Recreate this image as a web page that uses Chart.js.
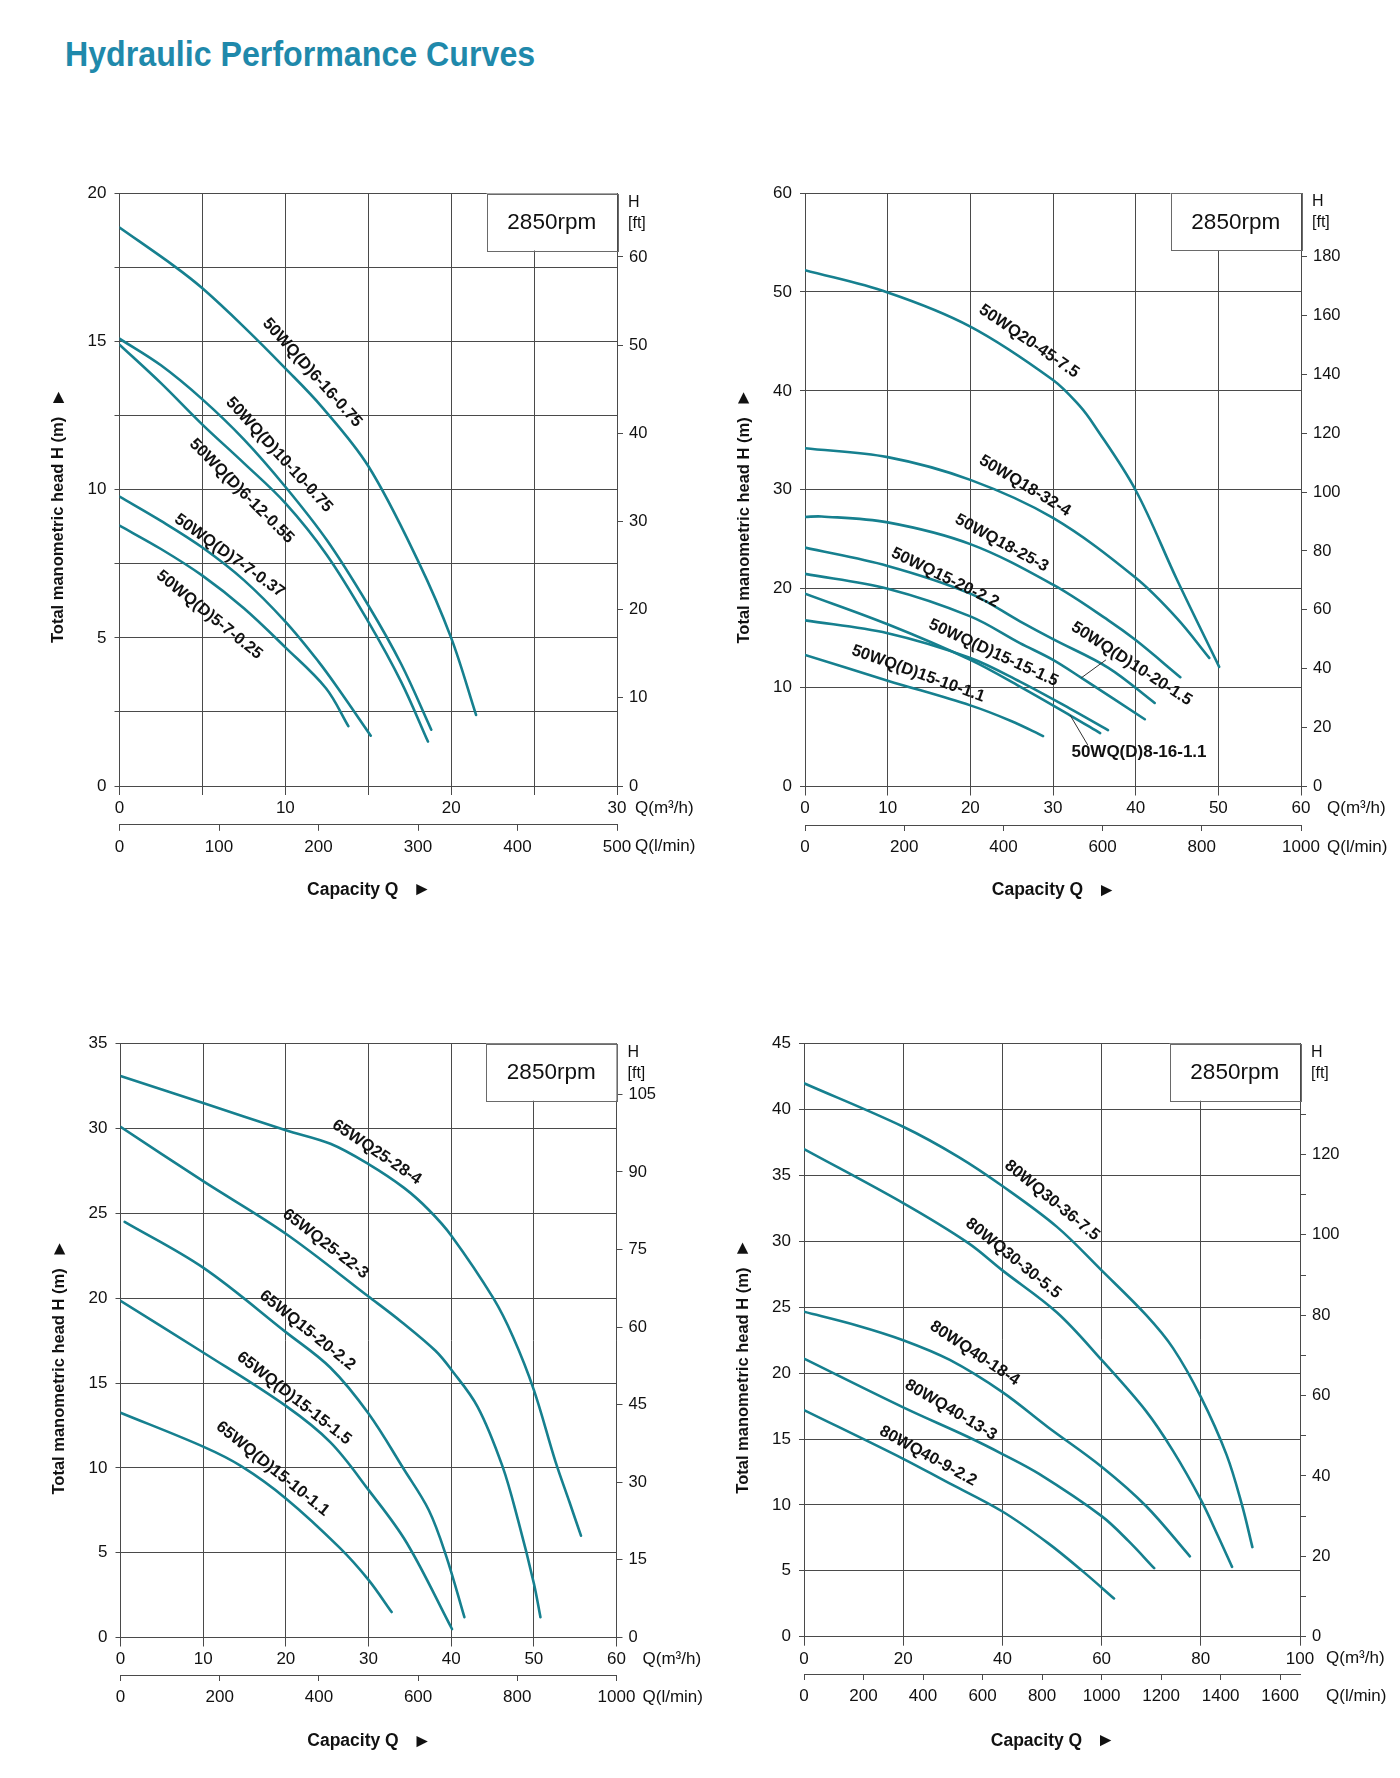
<!DOCTYPE html>
<html><head><meta charset="utf-8">
<script src="https://cdn.jsdelivr.net/npm/chart.js@4.4.1/dist/chart.umd.min.js"></script>
<style>
html,body{margin:0;padding:0;background:#fff;}
body{width:1400px;height:1778px;position:relative;overflow:hidden;}
#title{position:absolute;left:65px;top:36px;margin:0;font:bold 35px "Liberation Sans",Arial,sans-serif;line-height:35px;color:#1f89ab;transform:scaleX(0.919);transform-origin:0 0;white-space:nowrap;}
.wrap{position:absolute;width:720px;height:780px;}
canvas{display:block;}
</style></head><body>
<h1 id="title">Hydraulic Performance Curves</h1>
<div class="wrap" style="left:0;top:150px"><canvas id="c1" width="720" height="780"></canvas></div>
<div class="wrap" style="left:700px;top:150px"><canvas id="c2" width="720" height="780"></canvas></div>
<div class="wrap" style="left:0;top:1000px"><canvas id="c3" width="720" height="780"></canvas></div>
<div class="wrap" style="left:700px;top:1000px"><canvas id="c4" width="720" height="780"></canvas></div>
<script>
// ---------------- DATA (Q in m3/h, H in m) ----------------
// Chart 1
const c1Names = ['50WQ(D)6-16-0.75','50WQ(D)10-10-0.75','50WQ(D)6-12-0.55','50WQ(D)7-7-0.37','50WQ(D)5-7-0.25'];
const c1Q_6_16  = [0, 3.3, 5, 7.5, 10, 12.2, 15, 18, 20, 21.5];
const c1H_6_16  = [18.85, 17.55, 16.8, 15.5, 14.1, 12.8, 10.8, 7.6, 5.0, 2.4];
const c1Q_10_10 = [0, 2.5, 5, 7.5, 10, 12.5, 15, 17, 18.8];
const c1H_10_10 = [15.1, 14.2, 13.05, 11.7, 10.1, 8.3, 6.1, 4.1, 1.9];
const c1Q_6_12  = [0, 2.5, 5, 7.5, 10, 12.5, 15, 17, 18.6];
const c1H_6_12  = [14.9, 13.6, 12.2, 10.9, 9.55, 7.8, 5.55, 3.5, 1.5];
const c1Q_7_7   = [0, 2.5, 5, 7.5, 10, 12, 13.3, 15.15];
const c1H_7_7   = [9.77, 8.95, 8.05, 6.95, 5.55, 4.2, 3.2, 1.7];
const c1Q_5_7   = [0, 2.5, 5, 7.5, 10, 12.45, 13.8];
const c1H_5_7   = [8.79, 8.0, 7.1, 6.0, 4.68, 3.3, 2.02];

// Chart 2
const c2Names = ['50WQ20-45-7.5','50WQ18-32-4','50WQ18-25-3','50WQ15-20-2.2','50WQ(D)10-20-1.5','50WQ(D)8-16-1.1','50WQ(D)15-15-1.5','50WQ(D)15-10-1.1'];
const c2Q_20_45 = [0, 10, 20, 30, 33.2, 35, 40, 45, 50.1];
const c2H_20_45 = [52.2, 49.95, 46.5, 41.1, 38.5, 36.5, 29.95, 20.9, 12.1];
const c2Q_18_32 = [0, 10, 20, 30, 40, 45, 48.9];
const c2H_18_32 = [34.2, 33.3, 31.0, 27.15, 21.1, 17.0, 13.0];
const c2Q_18_25 = [0, 2, 10, 20, 30, 36.7, 40, 45.4];
const c2H_18_25 = [27.25, 27.3, 26.7, 24.5, 20.4, 16.8, 14.8, 11.05];
const c2Q_15_20 = [0, 10, 20, 26, 30, 36.7, 42.3];
const c2H_15_20 = [24.15, 22.3, 19.5, 16.7, 14.9, 12.0, 8.45];
const c2Q_10_20 = [0, 10, 20, 26, 30, 33.4, 41.1];
const c2H_10_20 = [21.5, 20.0, 17.2, 14.5, 12.8, 11.0, 6.8];
const c2Q_8_16  = [0, 10, 20, 26, 32.06, 35.7];
const c2H_8_16  = [19.5, 16.4, 12.8, 10.1, 7.2, 5.4];
const c2Q_15_15 = [0, 10, 20, 26, 32, 36.65];
const c2H_15_15 = [16.8, 15.5, 13.0, 10.6, 7.9, 5.7];
const c2Q_15_10 = [0, 10, 20, 25, 28.8];
const c2H_15_10 = [13.3, 10.7, 8.2, 6.6, 5.1];

// Chart 3
const c3Names = ['65WQ25-28-4','65WQ25-22-3','65WQ15-20-2.2','65WQ(D)15-15-1.5','65WQ(D)15-10-1.1'];
const c3Q_25_28 = [0, 10, 20, 25.4, 30, 34.3, 37.3, 40, 45.1, 47.5, 50, 52.6, 54.3, 55.7];
const c3H_25_28 = [33.1, 31.5, 29.9, 29.1, 27.9, 26.5, 25.2, 23.7, 20.0, 17.7, 14.6, 10.4, 8.0, 6.0];
const c3Q_25_22 = [0, 10, 20, 30, 34, 38.1, 40, 43.2, 46.2, 48.1, 50, 50.8];
const c3H_25_22 = [30.1, 26.9, 23.8, 20.1, 18.6, 16.9, 15.8, 13.6, 10.1, 6.9, 3.2, 1.2];
const c3Q_15_20 = [0.5, 10, 20, 25.4, 30, 34.3, 37.3, 39.4, 41.6];
const c3H_15_20 = [24.5, 21.8, 18.0, 15.9, 13.2, 9.9, 7.5, 4.8, 1.2];
const c3Q_15_15 = [0, 10, 20, 25.4, 30, 34.6, 40.1];
const c3H_15_15 = [19.85, 16.8, 13.65, 11.5, 8.7, 5.6, 0.5];
const c3Q_15_10 = [0, 10, 14.6, 20, 26.5, 30, 32.8];
const c3H_15_10 = [13.25, 11.25, 10.1, 8.2, 5.3, 3.4, 1.5];

// Chart 4
const c4Names = ['80WQ30-36-7.5','80WQ30-30-5.5','80WQ40-18-4','80WQ40-13-3','80WQ40-9-2.2'];
const c4Q_30_36 = [0, 20, 31.2, 40, 51, 60, 69, 74.4, 80, 85.2, 88.3, 90.4];
const c4H_30_36 = [42.0, 38.7, 36.4, 34.2, 31.1, 27.8, 24.4, 21.9, 18.2, 13.8, 10.0, 6.8];
const c4Q_30_30 = [0, 20, 33, 40, 51, 60, 69, 74.4, 80, 83.4, 86.3];
const c4H_30_30 = [37.0, 32.9, 29.9, 27.8, 24.6, 21.0, 17.1, 14.1, 10.4, 7.7, 5.3];
const c4Q_40_18 = [0, 10.5, 20, 29.4, 40, 49.2, 60, 69, 77.8];
const c4H_40_18 = [24.66, 23.64, 22.5, 21.0, 18.56, 15.9, 12.9, 9.9, 6.1];
const c4Q_40_13 = [0, 20, 33, 40, 47.4, 60, 65.4, 70.6];
const c4H_40_13 = [21.1, 17.4, 15.17, 13.86, 12.35, 9.15, 7.27, 5.2];
const c4Q_40_9  = [0, 20, 28.5, 40, 49.2, 56.4, 62.5];
const c4H_40_9  = [17.2, 13.5, 11.8, 9.5, 7.1, 4.9, 2.9];

// Axis ranges / tick steps
const c1Axes = {xMax:30, xStep:5, xLab:10, yMax:20, yStep:2.5, yLab:5, ft:3.36, ftStep:10, ftLab:10, ftLast:60, lStep:100};
const c2Axes = {xMax:60, xStep:10, xLab:10, yMax:60, yStep:10, yLab:10, ft:3.36, ftStep:20, ftLab:20, ftLast:180, lStep:200};
const c3Axes = {xMax:60, xStep:10, xLab:10, yMax:35, yStep:5, yLab:5, ft:3.28, ftStep:15, ftLab:15, ftLast:105, lStep:200};
const c4Axes = {xMax:100, xStep:20, xLab:20, yMax:45, yStep:5, yLab:5, ft:3.28, ftStep:10, ftLab:20, ftLast:130, lStep:200};

// Curve labels: [text, Q, H, angle deg]
const c1Labels = [['50WQ(D)6-16-0.75',11.62,13.95,48],['50WQ(D)10-10-0.75',9.62,11.18,47.5],['50WQ(D)6-12-0.55',7.36,9.95,45],['50WQ(D)7-7-0.37',6.63,7.77,35.6],['50WQ(D)5-7-0.25',5.42,5.77,39]];
const c2Labels = [['50WQ20-45-7.5',27.1,45.0,34.4],['50WQ18-32-4',26.6,30.4,31],['50WQ18-25-3',23.8,24.6,28.6],['50WQ15-20-2.2',16.95,21.1,26],['50WQ(D)15-15-1.5',22.8,13.5,24.7],['50WQ(D)15-10-1.1',13.7,11.4,19.8],['50WQ(D)10-20-1.5',39.5,12.4,33]];
const c2FlatLabels = [['50WQ(D)8-16-1.1',40.4,3.5]];
const c2Leaders = [[33.4,10.97,36.4,12.8],[32.06,7.23,34.2,4.2]];
const c3Labels = [['65WQ25-28-4',31.0,28.6,33.9],['65WQ25-22-3',24.8,23.2,37.6],['65WQ15-20-2.2',22.6,18.1,38.7],['65WQ(D)15-15-1.5',21.0,14.1,38],['65WQ(D)15-10-1.1',18.4,9.94,39]];
const c4Labels = [['80WQ30-36-7.5',50.0,33.1,39.2],['80WQ30-30-5.5',42.2,28.7,39],['80WQ40-18-4',34.4,21.5,33.5],['80WQ40-13-3',29.6,17.2,30.7],['80WQ40-9-2.2',25.0,13.7,28.8]];

// ---------------- STYLE / LAYOUT ----------------
const FONT = '"Liberation Sans", Arial, Helvetica, sans-serif';
const TEAL = '#16808f';
const GRID = '#4a4a4a';
const INK = '#111';
const CW = 720, CH = 780;

const annotPlugin = {
  id: 'annot',
  beforeDatasetsDraw(chart) {
    const ctx = chart.ctx; const a = chart.chartArea;
    ctx.save();
    const bw = 130.5, bh = 57;
    const bx = a.right - bw, by = a.top;
    ctx.fillStyle = '#fff'; ctx.fillRect(bx, by, bw, bh);
    ctx.strokeStyle = '#6a6a6a'; ctx.lineWidth = 1;
    ctx.strokeRect(Math.round(bx) + 0.5, Math.round(by) + 0.5, Math.round(bw), Math.round(bh));
    ctx.fillStyle = INK; ctx.font = '22.5px ' + FONT; ctx.textAlign = 'center'; ctx.textBaseline = 'middle';
    ctx.fillText('2850rpm', bx + bw / 2, by + bh / 2 + 1);
    ctx.restore();
  },
  afterDatasetsDraw(chart) {
    const o = chart.options.plugins.annot; const ctx = chart.ctx;
    const sx = chart.scales.x, sy = chart.scales.y;
    ctx.save();
    ctx.fillStyle = INK;
    ctx.font = 'bold 16.5px ' + FONT; ctx.textAlign = 'center'; ctx.textBaseline = 'middle';
    for (const L of o.labels) {
      ctx.save();
      ctx.translate(sx.getPixelForValue(L[1]), sy.getPixelForValue(L[2]));
      ctx.rotate(L[3] * Math.PI / 180);
      ctx.fillText(L[0], 0, 0);
      ctx.restore();
    }
    ctx.font = 'bold 17px ' + FONT;
    for (const L of (o.flat || [])) ctx.fillText(L[0], sx.getPixelForValue(L[1]), sy.getPixelForValue(L[2]));
    ctx.strokeStyle = '#333'; ctx.lineWidth = 1;
    for (const l of (o.leaders || [])) {
      ctx.beginPath();
      ctx.moveTo(sx.getPixelForValue(l[0]), sy.getPixelForValue(l[1]));
      ctx.lineTo(sx.getPixelForValue(l[2]), sy.getPixelForValue(l[3]));
      ctx.stroke();
    }
    ctx.restore();
  },
  afterDraw(chart) {
    const o = chart.options.plugins.annot; const ctx = chart.ctx; const a = chart.chartArea;
    ctx.save();
    ctx.fillStyle = INK;
    // Y title (rotated)
    ctx.save();
    ctx.translate(a.left - 61, a.bottom - 143);
    ctx.rotate(-Math.PI / 2);
    ctx.font = 'bold 16.5px ' + FONT; ctx.textAlign = 'left'; ctx.textBaseline = 'middle';
    const yt = 'Total manometric head H (m)';
    ctx.fillText(yt, 0, 0);
    const ytw = ctx.measureText(yt).width;
    ctx.font = 'bold 19px ' + FONT;
    ctx.fillText('\u25BA', ytw + 10, 0);
    ctx.restore();
    // X title
    ctx.font = 'bold 17.5px ' + FONT; ctx.textAlign = 'left'; ctx.textBaseline = 'middle';
    const xt = 'Capacity Q';
    const xtw = ctx.measureText(xt).width;
    const cx = (a.left + a.right) / 2 - (xtw + 15 + 12) / 2 - 2;
    const cy = a.bottom + 104;
    ctx.fillText(xt, cx, cy);
    ctx.font = 'bold 19px ' + FONT;
    ctx.fillText('\u25BA', cx + xtw + 14, cy);
    // Units
    ctx.font = '17px ' + FONT; ctx.textAlign = 'left'; ctx.textBaseline = 'middle';
    ctx.fillText('Q(m\u00B3/h)', a.right + o.unitOff, a.bottom + 22);
    ctx.fillText('Q(l/min)', a.right + o.unitOff, a.bottom + o.xH + 22);
    // H [ft]
    ctx.font = '16px ' + FONT;
    ctx.fillText('H', a.right + 11, a.top + 9);
    ctx.fillText('[ft]', a.right + 11, a.top + 30);
    ctx.restore();
  }
};

function ds(name, q, h) {
  return {
    label: name,
    data: q.map((v, i) => ({x: v, y: h[i]})),
    borderColor: TEAL, borderWidth: 2.6, pointRadius: 0, fill: false,
    tension: 0.35, borderCapStyle: 'round', borderJoinStyle: 'round'
  };
}

function build(id, ax, datasets, geo, annot) {
  const tickFont = {family: FONT, size: 17};
  const bottomH = CH - geo.top - geo.h - geo.xH;
  new Chart(document.getElementById(id), {
    type: 'line',
    data: {datasets},
    options: {
      responsive: false, animation: false, devicePixelRatio: 1,
      layout: {padding: {top: geo.top, left: 0, right: 0, bottom: 0}},
      plugins: {legend: {display: false}, tooltip: {enabled: false}, annot: Object.assign({xH: geo.xH}, annot)},
      scales: {
        x: {
          type: 'linear', position: 'bottom', min: 0, max: ax.xMax,
          afterFit: s => { s.height = geo.xH; },
          ticks: {stepSize: ax.xStep, autoSkip: false, maxRotation: 0, minRotation: 0, includeBounds: false,
                  padding: 3, color: INK, font: tickFont,
                  callback: v => (Math.abs(v % ax.xLab) < 1e-9 ? String(v) : '')},
          grid: {color: GRID, lineWidth: 1, tickLength: 9, drawTicks: true},
          border: {display: true, color: GRID, width: 1}
        },
        x2: {
          type: 'linear', position: 'bottom', min: 0, max: ax.xMax * 1000 / 60,
          afterFit: s => { s.height = bottomH; },
          ticks: {stepSize: ax.lStep, autoSkip: false, maxRotation: 0, minRotation: 0, includeBounds: false,
                  padding: 6, color: INK, font: tickFont, callback: v => String(v)},
          grid: {drawOnChartArea: false, color: GRID, lineWidth: 1, tickLength: 6},
          border: {display: true, color: GRID, width: 1}
        },
        y: {
          type: 'linear', position: 'left', min: 0, max: ax.yMax,
          afterFit: s => { s.width = geo.left; },
          ticks: {stepSize: ax.yStep, autoSkip: false, includeBounds: false, padding: 8, color: INK, font: tickFont,
                  callback: v => (Math.abs(v % ax.yLab) < 1e-9 ? String(v) : '')},
          grid: {color: GRID, lineWidth: 1, tickLength: 5, drawTicks: true},
          border: {display: true, color: GRID, width: 1}
        },
        y2: {
          type: 'linear', position: 'right', min: 0, max: ax.yMax * ax.ft,
          afterFit: s => { s.width = CW - geo.left - geo.w; },
          afterBuildTicks: s => { s.ticks = s.ticks.filter(t => t.value <= ax.ftLast + 1e-6); },
          ticks: {stepSize: ax.ftStep, autoSkip: false, includeBounds: false, padding: 6, color: INK,
                  font: {family: FONT, size: 16.5},
                  callback: v => (Math.abs(v % ax.ftLab) < 1e-9 ? String(v) : '')},
          grid: {drawOnChartArea: false, color: GRID, lineWidth: 1, tickLength: 6},
          border: {display: true, color: GRID, width: 1}
        }
      }
    },
    plugins: [annotPlugin]
  });
}

build('c1', c1Axes, [
  ds(c1Names[0], c1Q_6_16, c1H_6_16), ds(c1Names[1], c1Q_10_10, c1H_10_10), ds(c1Names[2], c1Q_6_12, c1H_6_12),
  ds(c1Names[3], c1Q_7_7, c1H_7_7), ds(c1Names[4], c1Q_5_7, c1H_5_7)
], {left: 119.5, w: 497.5, top: 43.5, h: 592.5, xH: 38.8}, {labels: c1Labels, unitOff: 18});

build('c2', c2Axes, [
  ds(c2Names[0], c2Q_20_45, c2H_20_45), ds(c2Names[1], c2Q_18_32, c2H_18_32), ds(c2Names[2], c2Q_18_25, c2H_18_25),
  ds(c2Names[3], c2Q_15_20, c2H_15_20), ds(c2Names[4], c2Q_10_20, c2H_10_20), ds(c2Names[5], c2Q_8_16, c2H_8_16),
  ds(c2Names[6], c2Q_15_15, c2H_15_15), ds(c2Names[7], c2Q_15_10, c2H_15_10)
], {left: 105, w: 496, top: 43, h: 593.5, xH: 38.5}, {labels: c2Labels, flat: c2FlatLabels, leaders: c2Leaders, unitOff: 26});

build('c3', c3Axes, [
  ds(c3Names[0], c3Q_25_28, c3H_25_28), ds(c3Names[1], c3Q_25_22, c3H_25_22), ds(c3Names[2], c3Q_15_20, c3H_15_20),
  ds(c3Names[3], c3Q_15_15, c3H_15_15), ds(c3Names[4], c3Q_15_10, c3H_15_10)
], {left: 120.5, w: 496, top: 43.7, h: 593.8, xH: 37.5}, {labels: c3Labels, unitOff: 26});

build('c4', c4Axes, [
  ds(c4Names[0], c4Q_30_36, c4H_30_36), ds(c4Names[1], c4Q_30_30, c4H_30_30), ds(c4Names[2], c4Q_40_18, c4H_40_18),
  ds(c4Names[3], c4Q_40_13, c4H_40_13), ds(c4Names[4], c4Q_40_9, c4H_40_9)
], {left: 104, w: 496, top: 43.7, h: 593, xH: 37.3}, {labels: c4Labels, unitOff: 26});
</script>
</body></html>
